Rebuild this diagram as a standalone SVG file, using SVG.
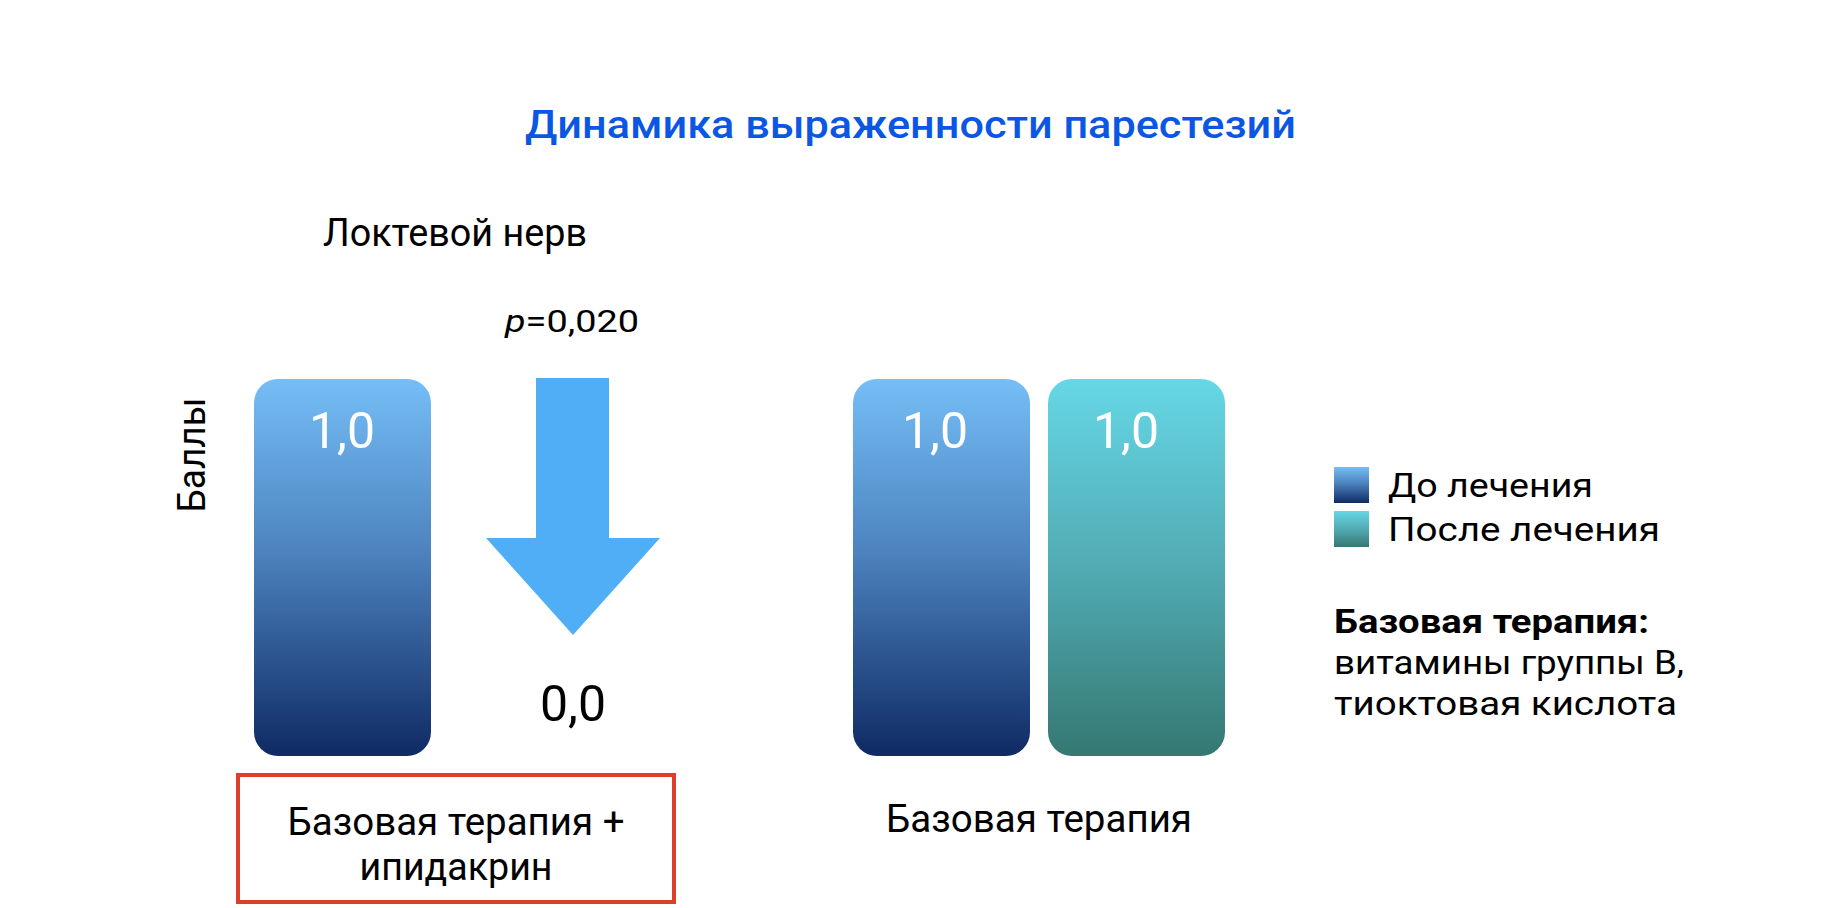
<svg xmlns="http://www.w3.org/2000/svg" width="1822" height="908" viewBox="0 0 1822 908">
  <style>
    text { font-family: Roboto, "Liberation Sans", "Noto Sans", sans-serif; fill: #000; }
    .title { font-size: 38px; font-weight: 500; fill: #0B57E3; }
    .lbl { font-size: 38px; }
    .val { font-size: 50px; fill: #fff; text-anchor: middle; }
    .legend { font-size: 34px; }
    .bold { font-weight: 700; }
  </style>
  <defs>
    <linearGradient id="gBlue" x1="0" y1="0" x2="0" y2="1">
      <stop offset="0" stop-color="#75BEF7"/>
      <stop offset="0.45" stop-color="#4D84BF"/>
      <stop offset="1" stop-color="#0F2A64"/>
    </linearGradient>
    <linearGradient id="gTeal" x1="0" y1="0" x2="0" y2="1">
      <stop offset="0" stop-color="#66D7E6"/>
      <stop offset="0.5" stop-color="#51ABB3"/>
      <stop offset="1" stop-color="#357872"/>
    </linearGradient>
  </defs>
  <rect width="1822" height="908" fill="#fff"/>

  <g id="title">
    <text class="title" x="525" y="138" textLength="771" lengthAdjust="spacingAndGlyphs">Динамика выраженности парестезий</text>
  </g>

  <g id="subtitle">
    <text class="lbl" x="323" y="246" textLength="264" lengthAdjust="spacingAndGlyphs">Локтевой нерв</text>
  </g>

  <g id="y-axis-label">
    <text class="lbl" transform="translate(205,455) rotate(-90)" text-anchor="middle" textLength="115" lengthAdjust="spacingAndGlyphs">Баллы</text>
  </g>

  <g id="pvalue">
    <text x="505" y="332" font-size="32" textLength="134" lengthAdjust="spacingAndGlyphs"><tspan font-style="italic">p</tspan>=0,020</text>
  </g>

  <g id="bar-left-before">
    <rect x="254" y="379" width="177" height="377" rx="24" fill="url(#gBlue)"/>
    <text class="val" x="342" y="448">1,0</text>
  </g>

  <g id="arrow">
    <polygon points="536,378 609,378 609,538 660,538 573,635 486,538 536,538" fill="#4FAEF6"/>
    <text x="573" y="721" font-size="50" text-anchor="middle">0,0</text>
  </g>

  <g id="bar-right-before">
    <rect x="853" y="379" width="177" height="377" rx="24" fill="url(#gBlue)"/>
    <text class="val" x="935" y="448">1,0</text>
  </g>

  <g id="bar-right-after">
    <rect x="1048" y="379" width="177" height="377" rx="24" fill="url(#gTeal)"/>
    <text class="val" x="1126" y="448">1,0</text>
  </g>

  <g id="group-left-label">
    <rect x="238" y="775" width="436" height="127" fill="none" stroke="#E03E2D" stroke-width="4"/>
    <text class="lbl" x="456" y="835" text-anchor="middle" textLength="337" lengthAdjust="spacingAndGlyphs">Базовая терапия +</text>
    <text class="lbl" x="456" y="880" text-anchor="middle" textLength="193" lengthAdjust="spacingAndGlyphs">ипидакрин</text>
  </g>

  <g id="group-right-label">
    <text class="lbl" x="886" y="832" textLength="306" lengthAdjust="spacingAndGlyphs">Базовая терапия</text>
  </g>

  <g id="legend">
    <rect x="1334" y="467" width="35" height="36" fill="url(#gBlue)"/>
    <text class="legend" x="1388" y="497" textLength="205" lengthAdjust="spacingAndGlyphs">До лечения</text>
    <rect x="1334" y="511" width="35" height="36" fill="url(#gTeal)"/>
    <text class="legend" x="1388" y="541" textLength="272" lengthAdjust="spacingAndGlyphs">После лечения</text>
  </g>

  <g id="note">
    <text class="legend bold" x="1334" y="633" textLength="315" lengthAdjust="spacingAndGlyphs">Базовая терапия:</text>
    <text class="legend" x="1334" y="674" textLength="350" lengthAdjust="spacingAndGlyphs">витамины группы В,</text>
    <text class="legend" x="1334" y="715" textLength="343" lengthAdjust="spacingAndGlyphs">тиоктовая кислота</text>
  </g>

  <g id="connectors"></g>
</svg>
